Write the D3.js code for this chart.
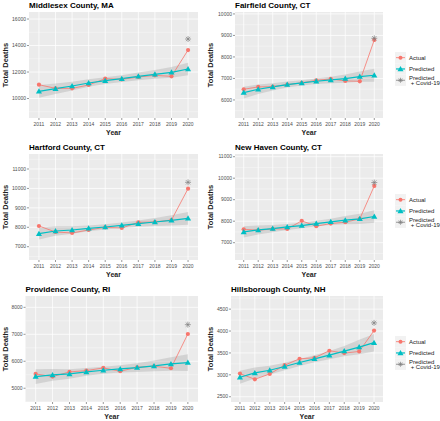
<!DOCTYPE html>
<html><head><meta charset="utf-8">
<script src="https://cdn.jsdelivr.net/npm/d3@7"></script>
<style>body{margin:0;background:#fff}svg{display:block;font-family:"Liberation Sans",Arial,Helvetica,sans-serif}</style>
</head><body><svg id="c" width="440" height="421"></svg>
<script>
const years = [2011,2012,2013,2014,2015,2016,2017,2018,2019,2020];
const titles = ["Middlesex County, MA","Fairfield County, CT","Hartford County, CT","New Haven County, CT","Providence County, RI","Hillsborough County, NH"];
const seriesNames = ["Actual","Predicted","Predicted\n + Covid-19"];

const actualMiddlesex = [11044,10767,10767,11020,11497,11447,11623,11748,11673,13660];
const predMiddlesex   = [10541,10742,10943,11170,11346,11497,11673,11824,11975,12226];
const upperMiddlesex  = [11020,11140,11270,11450,11600,11760,11960,12160,12380,12700];
const lowerMiddlesex  = [10060,10340,10610,10890,11100,11240,11380,11490,11570,11750];
const covidMiddlesex  = 14491;
const ticksMiddlesex  = [10000,12000,14000,16000];
const domainMiddlesex = [8530,16530];

const actualFairfield = [6496,6605,6620,6713,6791,6915,6977,6884,6868,8791];
const predFairfield   = [6341,6496,6605,6713,6791,6868,6930,6992,7085,7147];
const upperFairfield  = [6610,6715,6775,6853,6916,6998,7080,7182,7325,7447];
const lowerFairfield  = [6070,6275,6435,6573,6666,6738,6780,6802,6845,6847];
const covidFairfield  = 8868;
const ticksFairfield  = [6000,7000,8000,9000,10000];
const domainFairfield = [5160,10090];

const actualHartford = [8067,7758,7707,7861,7998,7964,8256,8273,8376,9988];
const predHartford   = [7672,7810,7861,7947,8015,8101,8187,8273,8358,8461];
const upperHartford  = [7972,8050,8051,8097,8150,8241,8352,8483,8618,8791];
const lowerHartford  = [7372,7570,7671,7797,7880,7961,8022,8063,8098,8131];
const covidHartford  = 10314;
const ticksHartford  = [7000,8000,9000,10000,11000];
const domainHartford = [6316,11772];

const actualNewHaven = [7625,7578,7641,7641,8016,7766,7891,7953,8109,9641];
const predNewHaven   = [7500,7594,7656,7734,7797,7891,7969,8047,8109,8219];
const upperNewHaven  = [7760,7804,7826,7874,7922,8021,8119,8237,8344,8509];
const lowerNewHaven  = [7240,7384,7486,7594,7672,7761,7819,7857,7874,7929];
const covidNewHaven  = 9797;
const ticksNewHaven  = [7000,8000,9000,10000,11000];
const domainNewHaven = [6195,11125];

const actualProvidence = [5531,5432,5605,5654,5753,5630,5778,5815,5741,7012];
const predProvidence   = [5432,5494,5531,5605,5667,5716,5765,5827,5901,5951];
const upperProvidence  = [5702,5714,5706,5750,5797,5851,5925,6027,6151,6261];
const lowerProvidence  = [5162,5274,5356,5460,5537,5581,5605,5627,5651,5641];
const covidProvidence  = 7358;
const ticksProvidence  = [5000,6000,7000,8000];
const domainProvidence = [4490,8420];

const actualHillsborough = [3029,2898,3021,3220,3366,3389,3550,3496,3534,4010];
const predHillsborough   = [2944,3044,3105,3190,3282,3366,3450,3542,3634,3734];
const upperHillsborough  = [3094,3169,3205,3275,3360,3446,3542,3657,3799,3934];
const lowerHillsborough  = [2794,2919,3005,3105,3204,3286,3358,3427,3469,3534];
const covidHillsborough  = 4186;
const ticksHillsborough  = [2500,3000,3500,4000,4500];
const domainHillsborough = [2380,4800];

const RED="#F8766D", CYAN="#00BFC4", GREY="#7F7F7F";

const panels = [
  {title:titles[0],a:actualMiddlesex,p:predMiddlesex,u:upperMiddlesex,l:lowerMiddlesex,c:covidMiddlesex,t:ticksMiddlesex,d:domainMiddlesex,box:[29,198,12,118],col:0},
  {title:titles[1],a:actualFairfield,p:predFairfield,u:upperFairfield,l:lowerFairfield,c:covidFairfield,t:ticksFairfield,d:domainFairfield,box:[235,383,12,118],col:1},
  {title:titles[2],a:actualHartford,p:predHartford,u:upperHartford,l:lowerHartford,c:covidHartford,t:ticksHartford,d:domainHartford,box:[29,198,154,260],col:0},
  {title:titles[3],a:actualNewHaven,p:predNewHaven,u:upperNewHaven,l:lowerNewHaven,c:covidNewHaven,t:ticksNewHaven,d:domainNewHaven,box:[235,383,154,260],col:1},
  {title:titles[4],a:actualProvidence,p:predProvidence,u:upperProvidence,l:lowerProvidence,c:covidProvidence,t:ticksProvidence,d:domainProvidence,box:[25.5,198,296,402],col:0},
  {title:titles[5],a:actualHillsborough,p:predHillsborough,u:upperHillsborough,l:lowerHillsborough,c:covidHillsborough,t:ticksHillsborough,d:domainHillsborough,box:[231,383,296,402],col:1}
];

const svg = d3.select("#c");

function star(g, x, y, r, color){
  const s = g.append("g").attr("transform",`translate(${x},${y})`)
    .attr("stroke",color).attr("stroke-width",0.7).attr("fill","none");
  const k = r*Math.SQRT1_2;
  s.append("path").attr("d",`M${-r},0H${r}M0,${-r}V${r}M${-k},${-k}L${k},${k}M${-k},${k}L${k},${-k}`);
}

panels.forEach(P=>{
  const [x0,x1,y0,y1] = P.box;
  const g = svg.append("g");
  const x = d3.scalePoint().domain(years).range([x0,x1]).padding(0.6);
  const y = d3.scaleLinear().domain(P.d).range([y1,y0]);
  g.append("rect").attr("x",x0).attr("y",y0).attr("width",x1-x0).attr("height",y1-y0).attr("fill","#EBEBEB");
  const step = P.t[1]-P.t[0];
  const minors = [];
  for (let i=0;i<=P.t.length;i++){ const v = P.t[0] - step/2 + i*step; if (v>=P.d[0] && v<=P.d[1]) minors.push(v); }
  g.selectAll(null).data(minors).join("line").attr("x1",x0).attr("x2",x1)
    .attr("y1",d=>y(d)).attr("y2",d=>y(d)).attr("stroke","#fff").attr("stroke-width",0.35);
  g.selectAll(null).data(P.t).join("line").attr("x1",x0).attr("x2",x1)
    .attr("y1",d=>y(d)).attr("y2",d=>y(d)).attr("stroke","#fff").attr("stroke-width",0.75);
  g.selectAll(null).data(years).join("line").attr("y1",y0).attr("y2",y1)
    .attr("x1",d=>x(d)).attr("x2",d=>x(d)).attr("stroke","#fff").attr("stroke-width",0.75);
  const band = years.map((yr,i)=>({yr,u:P.u[i],l:P.l[i]}));
  g.append("path").attr("d",d3.area().x(d=>x(d.yr)).y0(d=>y(d.l)).y1(d=>y(d.u))(band))
    .attr("fill","#999").attr("fill-opacity",0.3);
  const line = d3.line().x(d=>x(d[0])).y(d=>y(d[1]));
  g.append("path").attr("d",line(years.map((yr,i)=>[yr,P.a[i]]))).attr("fill","none").attr("stroke",RED).attr("stroke-width",0.8);
  g.append("path").attr("d",line(years.map((yr,i)=>[yr,P.p[i]]))).attr("fill","none").attr("stroke",CYAN).attr("stroke-width",1.2);
  g.selectAll(null).data(years).join("circle").attr("cx",d=>x(d)).attr("cy",(d,i)=>y(P.a[i])).attr("r",2.1).attr("fill",RED);
  const tri = d3.symbol(d3.symbolTriangle, 16);
  g.selectAll(null).data(years).join("path").attr("d",tri)
    .attr("transform",(d,i)=>`translate(${x(d)},${y(P.p[i])+0.5})`).attr("fill",CYAN);
  star(g, x(2020), y(P.c), 3, GREY);
  g.selectAll(null).data(P.t).join("line").attr("x1",x0-2).attr("x2",x0)
    .attr("y1",d=>y(d)).attr("y2",d=>y(d)).attr("stroke","#333").attr("stroke-width",0.5);
  g.selectAll(null).data(P.t).join("text").attr("x",x0-3).attr("y",d=>y(d)).attr("dy","0.35em")
    .attr("text-anchor","end").attr("font-size",5).attr("fill","#4D4D4D").text(d=>d);
  g.selectAll(null).data(years).join("line").attr("y1",y1).attr("y2",y1+2)
    .attr("x1",d=>x(d)).attr("x2",d=>x(d)).attr("stroke","#333").attr("stroke-width",0.5);
  g.selectAll(null).data(years).join("text").attr("x",d=>x(d)).attr("y",y1+8)
    .attr("text-anchor","middle").attr("font-size",5).attr("fill","#4D4D4D").text(d=>d);
  g.append("text").attr("x",(x0+x1)/2).attr("y",y1+17).attr("text-anchor","middle")
    .attr("font-size",7).attr("font-weight","bold").attr("fill","#222").text("Year");
  const tx = P.col===0 ? 5.5 : 210.5;
  g.append("text").attr("transform",`translate(${tx},${(y0+y1)/2}) rotate(-90)`).attr("dy","0.35em")
    .attr("text-anchor","middle").attr("font-size",7.5).attr("font-weight","bold").attr("fill","#222").text("Total Deaths");
  g.append("text").attr("x",x0).attr("y",y0-4.5).attr("font-size",8).attr("font-weight","bold").attr("fill","#000").text(P.title);

  if (P.col===1){
    const c = (y0+y1)/2 + 1;
    const lg = svg.append("g");
    const keyY = [c-14, c-2.7, c+8.6];
    const kh = 11.3, kx = 395, kw = 11;
    const cols = [RED,CYAN,GREY];
    keyY.forEach((ky,i)=>{
      lg.append("rect").attr("x",kx).attr("y",ky).attr("width",kw).attr("height",kh).attr("fill","#F2F2F2");
      const cy = ky+kh/2;
      lg.append("line").attr("x1",kx+1).attr("x2",kx+kw-1).attr("y1",cy).attr("y2",cy).attr("stroke",cols[i]).attr("stroke-width",i===1?1.2:0.8);
      if (i===0) lg.append("circle").attr("cx",kx+kw/2).attr("cy",cy).attr("r",2).attr("fill",RED);
      if (i===1) lg.append("path").attr("d",d3.symbol(d3.symbolTriangle,16)).attr("transform",`translate(${kx+kw/2},${cy+0.5})`).attr("fill",CYAN);
      if (i===2) star(lg, kx+kw/2, cy, 2.5, GREY);
      const lines = seriesNames[i].split("\n");
      lines.forEach((s,j)=>{
        const ty = lines.length===1 ? cy : cy - 2.7 + j*5.6;
        lg.append("text").attr("x",kx+kw+3).attr("y",ty).attr("dy","0.35em").attr("font-size",6)
          .attr("fill","#222").style("white-space","pre").text(s);
      });
    });
  }
});
</script></body></html>
